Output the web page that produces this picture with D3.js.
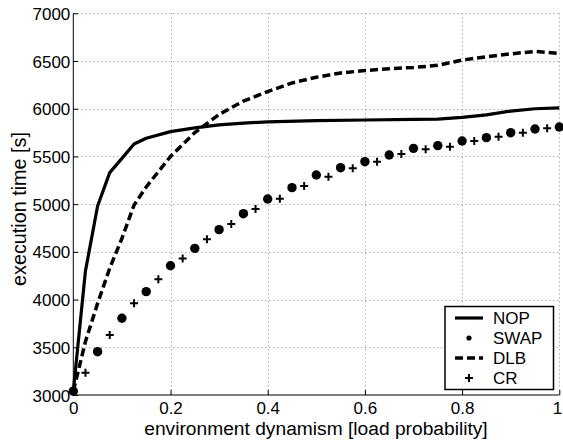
<!DOCTYPE html>
<html>
<head>
<meta charset="utf-8">
<script src="https://cdn.jsdelivr.net/npm/d3@7/dist/d3.min.js"></script>
<style>
  html, body { margin: 0; padding: 0; background: #fff; }
  svg { display: block; }
  text { font-family: "Liberation Sans", Arial, Helvetica, sans-serif; font-size: 17px; fill: #000; }
</style>
</head>
<body>
<svg id="chart" width="563" height="443"></svg>
<script>
// Load probability (x) and execution time in seconds (y) for each strategy
const nopX = [0, 0.025, 0.05, 0.075, 0.1, 0.125, 0.15, 0.2, 0.25, 0.3, 0.35, 0.4, 0.5, 0.6, 0.7, 0.75, 0.8, 0.85, 0.9, 0.95, 1];
const nopY = [3040, 4300, 4980, 5330, 5480, 5630, 5690, 5760, 5800, 5830, 5850, 5862, 5875, 5882, 5888, 5892, 5910, 5935, 5975, 6000, 6008];

const dlbX = [0, 0.025, 0.05, 0.075, 0.1, 0.125, 0.15, 0.2, 0.25, 0.3, 0.35, 0.4, 0.45, 0.5, 0.55, 0.6, 0.65, 0.7, 0.75, 0.8, 0.85, 0.9, 0.95, 1];
const dlbY = [3040, 3560, 3960, 4330, 4640, 4990, 5180, 5500, 5750, 5940, 6080, 6180, 6270, 6330, 6375, 6400, 6420, 6432, 6455, 6510, 6545, 6575, 6600, 6580];

const swapX = [0, 0.05, 0.1, 0.15, 0.2, 0.25, 0.3, 0.35, 0.4, 0.45, 0.5, 0.55, 0.6, 0.65, 0.7, 0.75, 0.8, 0.85, 0.9, 0.95, 1];
const swapY = [3040, 3454, 3804, 4083, 4355, 4537, 4733, 4900, 5054, 5173, 5306, 5382, 5445, 5515, 5585, 5613, 5662, 5697, 5749, 5788, 5809];

const crX = [0.025, 0.075, 0.125, 0.175, 0.225, 0.275, 0.325, 0.375, 0.425, 0.475, 0.525, 0.575, 0.625, 0.675, 0.725, 0.775, 0.825, 0.875, 0.925, 0.975];
const crY = [3234, 3629, 3961, 4212, 4430, 4632, 4792, 4949, 5057, 5190, 5288, 5376, 5445, 5526, 5575, 5602, 5662, 5707, 5749, 5795];

const xTicks = [0, 0.2, 0.4, 0.6, 0.8, 1];
const xTickLabels = ["0", "0.2", "0.4", "0.6", "0.8", "1"];
const yTicks = [3000, 3500, 4000, 4500, 5000, 5500, 6000, 6500, 7000];

const legendNames = ["NOP", "SWAP", "DLB", "CR"];

const svg = d3.select("#chart");
const plotLeft = 73.3, plotRight = 559.3, plotTop = 13.3, plotBottom = 395;

const x = d3.scaleLinear().domain([0, 1]).range([plotLeft, plotRight]);
const y = d3.scaleLinear().domain([3000, 7000]).range([plotBottom, plotTop]);

// Dotted grid
const grid = svg.append("g").attr("stroke", "#8a8a8a").attr("stroke-width", 1).attr("stroke-dasharray", "1,3");
grid.selectAll("line.h").data(yTicks.slice(1)).join("line").attr("class", "h")
  .attr("x1", plotLeft).attr("x2", plotRight)
  .attr("y1", d => Math.round(y(d)) + 0.5).attr("y2", d => Math.round(y(d)) + 0.5);
grid.selectAll("line.v").data(xTicks.slice(1)).join("line").attr("class", "v")
  .attr("y1", plotTop).attr("y2", plotBottom)
  .attr("x1", d => Math.round(x(d)) + 0.5).attr("x2", d => Math.round(x(d)) + 0.5);

// Axes with inward ticks
const xAxis = d3.axisBottom(x).tickValues(xTicks).tickSize(-5).tickPadding(7)
  .tickFormat((d, i) => xTickLabels[i]);
const yAxis = d3.axisLeft(y).tickValues(yTicks).tickSize(-5).tickPadding(3)
  .tickFormat(d3.format("d"));

const gx = svg.append("g").attr("transform", `translate(0,${plotBottom})`).call(xAxis);
const gy = svg.append("g").attr("transform", `translate(${plotLeft},0)`).call(yAxis);
[gx, gy].forEach(g => {
  g.select(".domain").attr("stroke", "#000").attr("stroke-width", 1);
  g.selectAll(".tick line").attr("stroke", "#000");
  g.selectAll(".tick text").attr("font-size", 17).attr("font-family", "Liberation Sans, Arial, sans-serif").attr("fill", "#000");
});
gx.selectAll(".tick text").attr("font-size", 16.5);
gx.select(".domain").attr("d", `M${plotLeft},0H${plotRight}`);
gy.select(".domain").attr("d", `M0,${plotBottom}V${plotTop}`);
gy.selectAll(".tick text").attr("dy", "0.36em");
// keep the last x label inside the canvas edge
gx.selectAll(".tick text").filter(d => d === 1).attr("text-anchor", "end").attr("dx", 2.5);

// Axis titles
svg.append("text").attr("x", 316).attr("y", 435).attr("text-anchor", "middle")
  .style("font-size", "19.2px")
  .text("environment dynamism [load probability]");
svg.append("text").attr("transform", "translate(25.5,209) rotate(-90)").attr("text-anchor", "middle")
  .style("font-size", "19.8px")
  .text("execution time [s]");

// Series
const line = d3.line().x(d => x(d[0])).y(d => y(d[1]));
const plot = svg.append("g");

plot.append("path").datum(dlbX.map((v, i) => [v, dlbY[i]]))
  .attr("d", line).attr("fill", "none").attr("stroke", "#000")
  .attr("stroke-width", 3.5).attr("stroke-dasharray", "8,4");

plot.append("path").datum(nopX.map((v, i) => [v, nopY[i]]))
  .attr("d", line).attr("fill", "none").attr("stroke", "#000")
  .attr("stroke-width", 3.2).attr("stroke-linejoin", "round");

plot.selectAll("circle.swap").data(swapX.map((v, i) => [v, swapY[i]])).join("circle").attr("class", "swap")
  .attr("cx", d => x(d[0])).attr("cy", d => y(d[1])).attr("r", 4.7).attr("fill", "#000");

const plus = 4;
plot.selectAll("path.cr").data(crX.map((v, i) => [v, crY[i]])).join("path").attr("class", "cr")
  .attr("d", d => `M${x(d[0]) - plus},${y(d[1])}H${x(d[0]) + plus}M${x(d[0])},${y(d[1]) - plus}V${y(d[1]) + plus}`)
  .attr("stroke", "#000").attr("stroke-width", 2).attr("fill", "none");

// Legend
const lg = svg.append("g");
lg.append("rect").attr("x", 445).attr("y", 306.5).attr("width", 108.5).attr("height", 83)
  .attr("fill", "#fff").attr("stroke", "#000").attr("stroke-width", 1.5);
const rowY = [318, 338, 358, 378];
lg.append("line").attr("x1", 455).attr("x2", 483).attr("y1", rowY[0]).attr("y2", rowY[0])
  .attr("stroke", "#000").attr("stroke-width", 3.2);
lg.append("circle").attr("cx", 469).attr("cy", rowY[1]).attr("r", 2.6).attr("fill", "#000");
lg.append("line").attr("x1", 455).attr("x2", 483).attr("y1", rowY[2]).attr("y2", rowY[2])
  .attr("stroke", "#000").attr("stroke-width", 3.5).attr("stroke-dasharray", "8,4");
lg.append("path").attr("d", `M465,${rowY[3]}H473M469,${rowY[3] - 4}V${rowY[3] + 4}`)
  .attr("stroke", "#000").attr("stroke-width", 2);
lg.selectAll("text").data(legendNames).join("text")
  .attr("x", 493).attr("y", (d, i) => rowY[i] + 6).text(d => d);
</script>
</body>
</html>
